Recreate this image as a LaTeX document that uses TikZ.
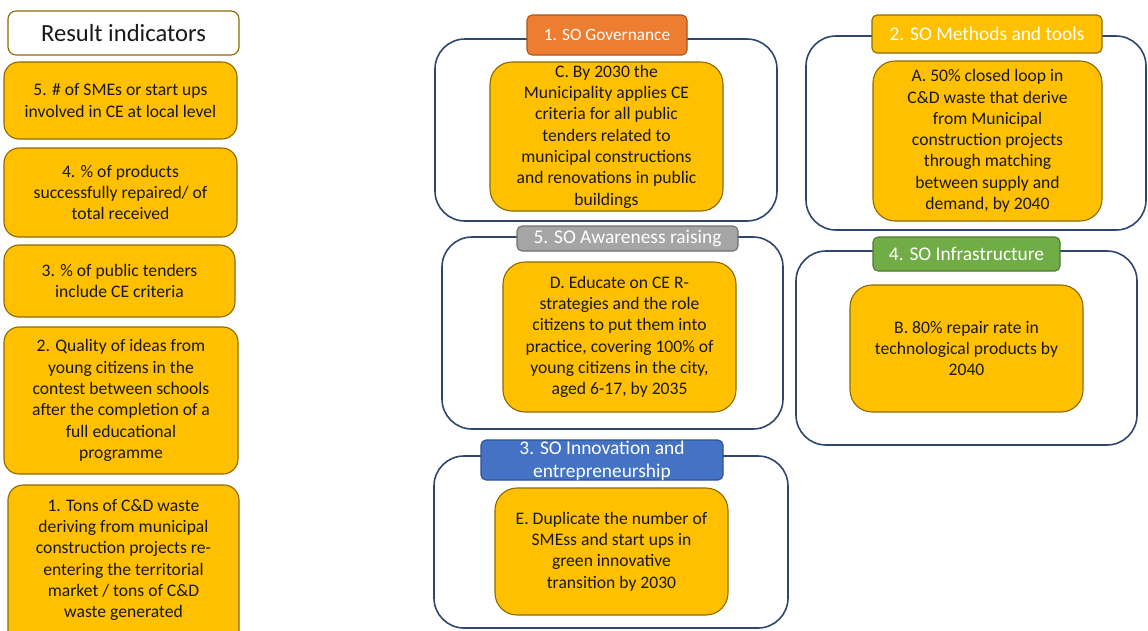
\documentclass[tikz,border=0pt]{standalone}
\usepackage{fontspec}
\setmainfont{Carlito}
\usetikzlibrary{positioning}

\definecolor{gold}{HTML}{FFC000}
\definecolor{goldline}{HTML}{8C6A00}
\definecolor{navy}{HTML}{2F4670}
\definecolor{govorange}{HTML}{ED7D31}
\definecolor{govline}{HTML}{A9561F}
\definecolor{awgray}{HTML}{A5A5A5}
\definecolor{awline}{HTML}{707070}
\definecolor{innblue}{HTML}{4472C4}
\definecolor{innline}{HTML}{2F528F}
\definecolor{infgreen}{HTML}{70AD47}
\definecolor{infline}{HTML}{4E7A31}

\tikzset{
  body/.style={font=\fontsize{17.6}{21.3}\selectfont},
  indicator/.style={draw=goldline, fill=gold, line width=1.1pt, rounded corners=15pt,
    inner sep=0pt, align=center, body, text=black!90},
  objective/.style={draw=goldline, fill=gold, line width=1.1pt, rounded corners=22pt,
    inner sep=0pt, align=center, body, text=black!90},
  container/.style={draw=navy, line width=1.6pt, rounded corners=30pt, inner sep=0pt},
  tab/.style={line width=1.1pt, rounded corners=5pt, inner sep=0pt, align=center,
    text=white, font=\fontsize{19.4}{23}\selectfont},
}

% a box given by its left, top, right and bottom edges
\newcommand{\boxat}[6]{%
  \node[#1, minimum width=#5-#3, minimum height=#6-#4] (#2)
    at ({(#3+#5)/2},{(#4+#6)/2})}

\begin{document}
\begin{tikzpicture}[x=1pt, y=-1pt]
\useasboundingbox (0,0) rectangle (1148,630);
\clip (0,0) rectangle (1148,630);

% ---- result indicators column ----
\boxat{indicator, fill=white, rounded corners=8pt, font=\fontsize{24.6}{29}\selectfont}{title}{8}{11}{239}{55}
  {Result indicators};
\boxat{indicator}{ri5}{4}{62}{237}{139}
  {5. \# of SMEs or start ups\\involved in CE at local level};
\boxat{indicator}{ri4}{4}{148}{237}{237}
  {4. \% of products\\successfully repaired/ of\\total received};
\boxat{indicator}{ri3}{4}{245}{235}{317}
  {3. \% of public tenders\\include CE criteria};
\boxat{indicator}{ri2}{4}{327}{238}{474}
  {2. Quality of ideas from\\young citizens in the\\contest between schools\\after the completion of a\\full educational\\programme};
\boxat{indicator}{ri1box}{8}{485}{239}{660}{};
\node[body, align=center, text=black!90] (ri1) at (123.5,560)
  {1. Tons of C\&D waste\\deriving from municipal\\construction projects re-\\entering the territorial\\market / tons of C\&D\\waste generated};

% ---- strategic objective containers ----
\boxat{container}{govc}{435}{39}{777}{221}{};
\boxat{container}{awc}{442}{237}{783}{429}{};
\boxat{container}{innc}{434}{456}{788}{628}{};
\boxat{container}{metc}{806}{36}{1146}{230}{};
\boxat{container}{infc}{796}{251}{1137}{445}{};

% ---- container tabs ----
\boxat{tab, fill=govorange, draw=govline, font=\fontsize{17.3}{21}\selectfont}{govt}{527}{15}{687}{55}{1. SO Governance};
\boxat{tab, fill=awgray, draw=awline}{awt}{517}{226}{738}{251}{5. SO Awareness raising};
\boxat{tab, fill=innblue, draw=innline}{innt}{481}{440}{723}{480}{};
\node[tab, text=white] (inntext) at (602,461) {3. SO Innovation and\\entrepreneurship};
\boxat{tab, fill=gold, draw=goldline}{mett}{872}{15}{1102}{53}{2. SO Methods and tools};
\boxat{tab, fill=infgreen, draw=infline}{inft}{873}{237}{1060}{271}{4. SO Infrastructure};

% ---- objectives ----
\boxat{objective}{objC}{490}{62}{723}{211}
  {C. By 2030 the\\Municipality applies CE\\criteria for all public\\tenders related to\\municipal constructions\\and renovations in public\\buildings};
\boxat{objective}{objD}{503}{262}{736}{412}
  {D. Educate on CE R-\\strategies and the role\\citizens to put them into\\practice, covering 100\% of\\young citizens in the city,\\aged 6-17, by 2035};
\boxat{objective}{objE}{495}{488}{728}{615}
  {E. Duplicate the number of\\SMEss and start ups in\\green innovative\\transition by 2030};
\boxat{objective}{objA}{873}{61}{1102}{221}
  {A. 50\% closed loop in\\C\&D waste that derive\\from Municipal\\construction projects\\through matching\\between supply and\\demand, by 2040};
\boxat{objective}{objB}{850}{285}{1083}{412}
  {B. 80\% repair rate in\\technological products by\\2040};
\end{tikzpicture}
\end{document}
